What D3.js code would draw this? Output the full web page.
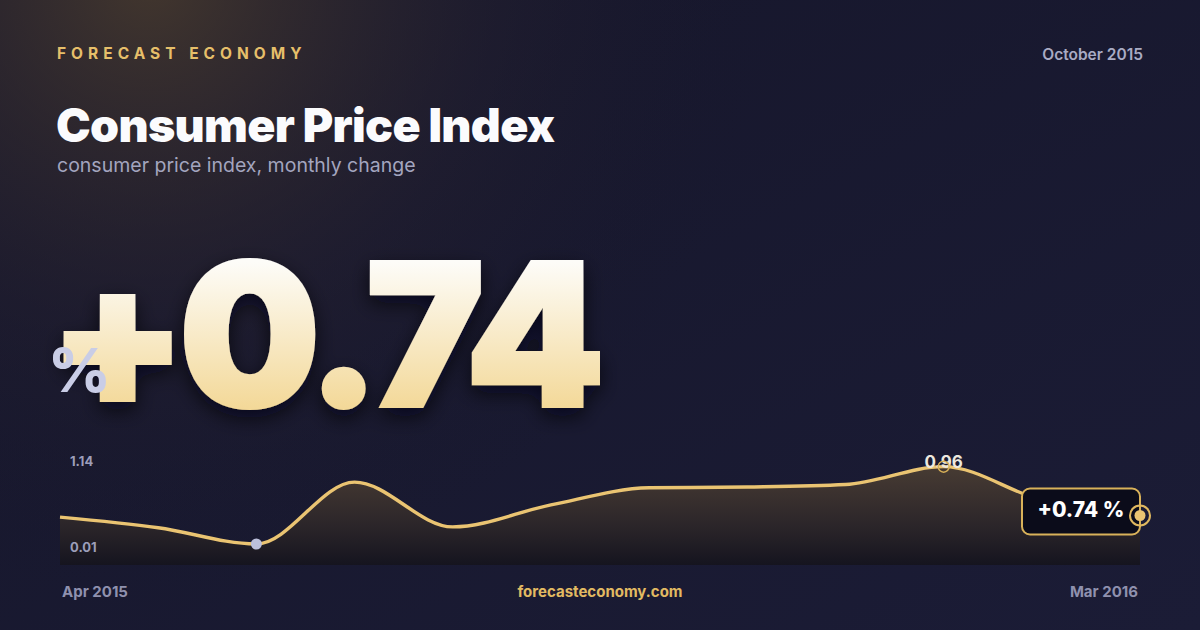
<!doctype html>
<html lang="en">
<head>
<meta charset="UTF-8" />
<title>Consumer Price Index</title>
<script src="https://cdn.jsdelivr.net/npm/d3@7"></script>
<style>
  html, body { margin: 0; padding: 0; background: #15162a; }
  svg { display: block; font-family: Inter, "Noto Sans", sans-serif; }
</style>
</head>
<body>
<svg id="card" width="1200" height="630"></svg>
<script>
// data
const months = ["Apr 2015", "May 2015", "Jun 2015", "Jul 2015", "Aug 2015", "Sep 2015",
                "Oct 2015", "Nov 2015", "Dec 2015", "Jan 2016", "Feb 2016", "Mar 2016"];
const cpiChange = [0.34, 0.21, 0.01, 0.77, 0.22, 0.49, 0.70, 0.71, 0.74, 0.96, 0.55, 0.36];
const yTicks = [0.01, 1.14];
const headline = "+0.74";
const headUnit = "%";
const lowIndex = 2;    // highlighted low point
const peakIndex = 9;   // labelled point
const peakLabel = "0.96";
const endLabel = "+0.74 %";

const W = 1200, H = 630;
const svg = d3.select("#card");
const defs = svg.append("defs");

// background
const bg = defs.append("linearGradient").attr("id", "bg")
  .attr("x1", 0).attr("y1", 0).attr("x2", 1).attr("y2", 1);
bg.append("stop").attr("offset", 0).attr("stop-color", "#16162a");
bg.append("stop").attr("offset", 1).attr("stop-color", "#1b1c36");
const glow = defs.append("radialGradient").attr("id", "glow")
  .attr("gradientUnits", "userSpaceOnUse")
  .attr("cx", 150).attr("cy", -20).attr("r", 620);
glow.append("stop").attr("offset", 0).attr("stop-color", "#4a3c2e").attr("stop-opacity", 0.85);
glow.append("stop").attr("offset", 0.55).attr("stop-color", "#2a2430").attr("stop-opacity", 0.35);
glow.append("stop").attr("offset", 1).attr("stop-color", "#16162a").attr("stop-opacity", 0);

svg.append("rect").attr("width", W).attr("height", H).attr("fill", "url(#bg)");
svg.append("rect").attr("width", W).attr("height", H).attr("fill", "url(#glow)");

// header
svg.append("text").attr("x", 57).attr("y", 59)
  .attr("fill", "#e6bf6a").attr("font-size", 15.5).attr("font-weight", 700)
  .attr("letter-spacing", 5).text("FORECAST ECONOMY");
svg.append("text").attr("x", 1143).attr("y", 60).attr("text-anchor", "end")
  .attr("fill", "#a9abc4").attr("font-size", 15.5).attr("font-weight", 600)
  .text(months[6].replace("Oct", "October"));
svg.append("text").attr("x", 56).attr("y", 142)
  .attr("fill", "#fbfbfd").attr("font-size", 46.5).attr("font-weight", 900)
  .attr("letter-spacing", -0.7).text("Consumer Price Index");
svg.append("text").attr("x", 57).attr("y", 172)
  .attr("fill", "#a3a5bf").attr("font-size", 19.5).attr("font-weight", 400)
  .text("consumer price index, monthly change");

// headline number
const hg = defs.append("linearGradient").attr("id", "headFill")
  .attr("gradientUnits", "userSpaceOnUse")
  .attr("x1", 0).attr("y1", 262).attr("x2", 0).attr("y2", 410);
hg.append("stop").attr("offset", 0).attr("stop-color", "#fdfcf8");
hg.append("stop").attr("offset", 1).attr("stop-color", "#f3d897");
const sh = defs.append("filter").attr("id", "shadow")
  .attr("x", "-10%").attr("y", "-10%").attr("width", "120%").attr("height", "130%");
sh.append("feDropShadow").attr("dx", 0).attr("dy", 8).attr("stdDeviation", 10)
  .attr("flood-color", "#05050c").attr("flood-opacity", 0.7);

svg.append("text").attr("x", 49).attr("y", 406)
  .attr("fill", "url(#headFill)").attr("stroke", "url(#headFill)")
  .attr("stroke-width", 4).attr("stroke-linejoin", "miter")
  .attr("font-size", 198).attr("font-weight", 900)
  .attr("letter-spacing", -7).attr("filter", "url(#shadow)")
  .text(headline);
svg.append("text").attr("x", 48).attr("y", 392)
  .attr("fill", "#c9cde6").attr("font-size", 61).attr("font-weight", 800)
  .text(headUnit);

// chart
const plot = { left: 60, right: 1140, top: 452, bottom: 565 };
const x = d3.scalePoint().domain(months).range([plot.left, plot.right]);
const y = d3.scaleLinear().domain(d3.extent(yTicks)).range([544, plot.top]);

const ag = defs.append("linearGradient").attr("id", "areaFill")
  .attr("x1", 0).attr("y1", 0).attr("x2", 0).attr("y2", 1);
ag.append("stop").attr("offset", 0).attr("stop-color", "#4a3d33").attr("stop-opacity", 0.95);
ag.append("stop").attr("offset", 0.6).attr("stop-color", "#2c2629").attr("stop-opacity", 0.95);
ag.append("stop").attr("offset", 1).attr("stop-color", "#15141f").attr("stop-opacity", 1);

const pts = months.map((m, i) => ({ m, v: cpiChange[i] }));
const area = d3.area().curve(d3.curveMonotoneX)
  .x(d => x(d.m)).y0(plot.bottom).y1(d => y(d.v));
const line = d3.line().curve(d3.curveMonotoneX)
  .x(d => x(d.m)).y(d => y(d.v));

svg.append("path").datum(pts).attr("d", area).attr("fill", "url(#areaFill)");
svg.append("path").datum(pts).attr("d", line)
  .attr("fill", "none").attr("stroke", "#eac472").attr("stroke-width", 3.4)
  .attr("stroke-linejoin", "round");

// y labels at plot corners
svg.append("text").attr("x", 70).attr("y", plot.top + 14)
  .attr("fill", "#9c9eba").attr("font-size", 13).attr("font-weight", 700)
  .text(yTicks[1].toFixed(2));
svg.append("text").attr("x", 70).attr("y", plot.bottom - 13)
  .attr("fill", "#9c9eba").attr("font-size", 13).attr("font-weight", 700)
  .text(yTicks[0].toFixed(2));

// low point
svg.append("circle").attr("cx", x(months[lowIndex])).attr("cy", y(cpiChange[lowIndex]))
  .attr("r", 5.5).attr("fill", "#bcc0dc");

// peak point
const px = x(months[peakIndex]), py = y(cpiChange[peakIndex]);
svg.append("text").attr("x", px).attr("y", py + 1).attr("text-anchor", "middle")
  .attr("fill", "#ece8df").attr("font-size", 17).attr("font-weight", 700)
  .text(peakLabel);
svg.append("circle").attr("cx", px).attr("cy", py).attr("r", 5.5)
  .attr("fill", "none").attr("stroke", "#d8b058").attr("stroke-width", 1.5);

// end badge
const ex = x(months[months.length - 1]), ey = y(cpiChange[cpiChange.length - 1]);
svg.append("rect").attr("x", ex - 118).attr("y", ey - 27).attr("width", 118).attr("height", 46)
  .attr("rx", 8).attr("fill", "#0b0c1a").attr("stroke", "#d9b25a").attr("stroke-width", 2);
svg.append("text").attr("x", ex - 59).attr("y", ey + 1).attr("text-anchor", "middle")
  .attr("fill", "#ffffff").attr("font-size", 21).attr("font-weight", 800)
  .text(endLabel);
svg.append("circle").attr("cx", ex).attr("cy", ey).attr("r", 10)
  .attr("fill", "none").attr("stroke", "#e0b860").attr("stroke-width", 2);
svg.append("circle").attr("cx", ex).attr("cy", ey).attr("r", 5.5).attr("fill", "#eac472");

// footer
svg.append("text").attr("x", 62).attr("y", 597)
  .attr("fill", "#8f91ae").attr("font-size", 15).attr("font-weight", 700)
  .text(months[0]);
svg.append("text").attr("x", 1138).attr("y", 597).attr("text-anchor", "end")
  .attr("fill", "#8f91ae").attr("font-size", 15).attr("font-weight", 700)
  .text(months[months.length - 1]);
svg.append("text").attr("x", 600).attr("y", 597).attr("text-anchor", "middle")
  .attr("fill", "#e2ba62").attr("font-size", 15).attr("font-weight", 700)
  .text("forecasteconomy.com");
</script>
</body>
</html>
